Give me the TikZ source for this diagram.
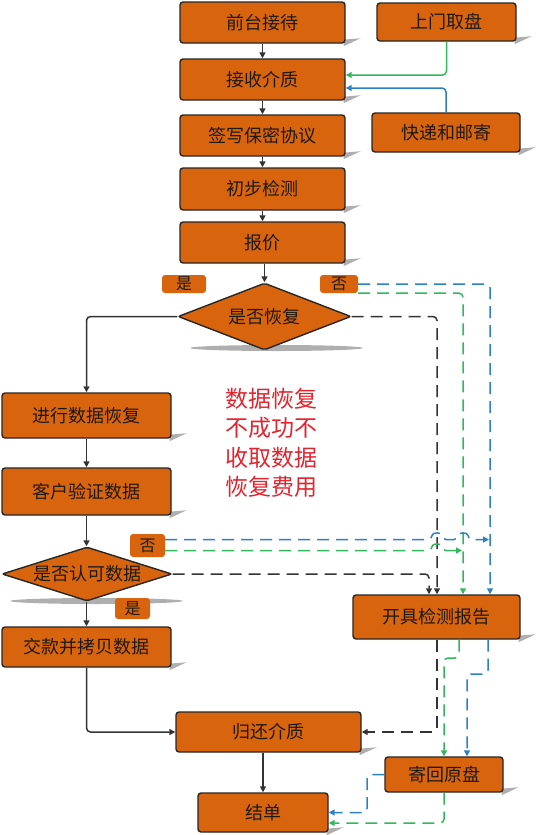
\documentclass[tikz,border=0pt]{standalone}
\usepackage{fontspec}
\newfontfamily\cjk{Noto Sans CJK SC}
\usetikzlibrary{shapes.geometric,arrows.meta,calc,backgrounds}
\definecolor{orng}{RGB}{216,101,14}
\definecolor{txt}{RGB}{30,25,20}
\definecolor{bl}{RGB}{44,128,196}
\definecolor{gr}{RGB}{48,184,90}
\definecolor{redc}{RGB}{226,36,46}
\definecolor{shad}{RGB}{175,175,175}
\begin{document}
\begin{tikzpicture}[x=1pt,y=-1pt,
  box/.style={draw=black!85,line width=1.4pt,fill=orng,rounded corners=3pt,text=txt,
    font=\cjk\fontsize{18}{20}\selectfont,inner sep=0pt},
  dia/.style={diamond,draw=black!85,line width=1.4pt,fill=orng,rounded corners=2pt,inner sep=0pt},
  diatext/.style={text=txt,font=\cjk\fontsize{18}{20}\selectfont,inner sep=0pt},
  lab/.style={fill=orng,rounded corners=3pt,text=txt,font=\cjk\fontsize{16}{18}\selectfont,inner sep=0pt},
  arr/.style={draw=black!80,line width=1.5pt,rounded corners=4pt,-{Triangle[length=6pt,width=6pt]}},
  dk/.style={arr,dash pattern=on 12pt off 7pt},
  dg/.style={arr,draw=gr,dash pattern=on 12pt off 7pt},
  db/.style={arr,draw=bl,dash pattern=on 12pt off 7pt},
  sg/.style={arr,draw=gr},
  sb/.style={arr,draw=bl}]
\useasboundingbox (0,0) rectangle (536,835);

% nodes
\node[box,minimum width=165pt,minimum height=41pt] (n1) at (262.5,22.5) {前台接待};
\node[box,minimum width=139pt,minimum height=38pt] (up) at (446.5,22) {上门取盘};
\node[box,minimum width=165pt,minimum height=41pt] (n2) at (262.5,79.5) {接收介质};
\node[box,minimum width=148pt,minimum height=39pt] (exp) at (446,132.5) {快递和邮寄};
\node[box,minimum width=165pt,minimum height=41pt] (n3) at (262.5,135.5) {签写保密协议};
\node[box,minimum width=165pt,minimum height=42pt] (n4) at (262.5,189) {初步检测};
\node[box,minimum width=165pt,minimum height=41pt] (n5) at (262.5,242.5) {报价};
\node[dia,minimum width=173pt,minimum height=67pt] (d1) at (264.5,316.5) {};
\node[diatext] (d1t) at (d1.center) {是否恢复};
\node[lab,minimum width=44pt,minimum height=18pt] (yes1) at (184,284) {是};
\node[lab,minimum width=38pt,minimum height=18pt] (no1) at (339,284) {否};
\node[box,minimum width=169pt,minimum height=45pt] (r1) at (86.5,415.5) {进行数据恢复};
\node[box,minimum width=169pt,minimum height=47pt] (r2) at (86.5,491.5) {客户验证数据};
\node[dia,minimum width=170pt,minimum height=54pt] (d2) at (87,574) {};
\node[diatext] (d2t) at (d2.center) {是否认可数据};
\node[lab,minimum width=35pt,minimum height=23pt] (no2) at (147.5,545.5) {否};
\node[lab,minimum width=35pt,minimum height=21pt] (yes2) at (132.5,608.5) {是};
\node[box,minimum width=169pt,minimum height=40pt] (pay) at (86.5,647) {交款并拷贝数据};
\node[box,minimum width=167pt,minimum height=44pt] (rep) at (436.5,617) {开具检测报告};
\node[box,minimum width=185pt,minimum height=40pt] (ret) at (268.5,732) {归还介质};
\node[box,minimum width=118pt,minimum height=35pt] (send) at (444,774.5) {寄回原盘};
\node[box,minimum width=130pt,minimum height=39pt] (fin) at (263,812.5) {结单};
\node[font=\cjk\fontsize{23}{29.5}\selectfont,text=redc,align=center,inner sep=0pt] (note) at (271.5,443) {数据恢复\\不成功不\\收取数据\\恢复费用};

% shadows
\begin{scope}[on background layer]
\foreach \n in {n1,up,n2,exp,n3,n4,n5,r1,r2,pay,rep,ret,send,fin}
  \fill[shad] ($(\n.south east)+(-2,-4)$) -- ($(\n.south east)+(15,-5.5)$) -- ($(\n.south east)+(-2,2.5)$) -- cycle;
\fill[shad] (276.5,348) ellipse [x radius=86.5, y radius=3];
\fill[shad] (96.5,601) ellipse [x radius=86.5, y radius=3];
\end{scope}

% helper coordinates
\coordinate (xk) at (437,0);
\coordinate (xk2) at (429,0);
\coordinate (xg) at (463,0);
\coordinate (xb) at (490,0);
\coordinate (xg2) at (459,0);
\coordinate (xb2) at (488,0);
\coordinate (xb3) at (467,0);
\coordinate (bj) at (489,539.5);
\coordinate (gj) at (462,550.5);

% main chain
\draw[arr] (n1) -- (n2);
\draw[arr] (n2) -- (n3);
\draw[arr] (n3) -- (n4);
\draw[arr] (n4) -- (n5);
\draw[arr] (n5.south -| d1.north) -- (d1.north);
\draw[arr] (d1.west) -| (r1.north);
\draw[arr] (r1) -- (r2);
\draw[arr] (r2.south) -- (r2.south |- d2.north);
\draw[arr] (d2.south -| pay.north) -- (pay.north);
\draw[arr] (pay.south) |- (ret.west);
\draw[arr] (ret.south -| fin.north) -- (fin.north);

% top side inputs
\draw[sg] (up.south) |- ($(n2.east)+(0,-4.5)$);
\draw[sb] (exp.north) |- ($(n2.east)+(0,8.5)$);

% "no" branches
\draw[dk] (d1.east) -| (rep.north -| xk);
\draw[db] (no1.east) -| (rep.north -| xb);
\draw[dg] (no1.south east) -| (rep.north -| xg);
\draw[dk] (d2.east) -| (rep.north -| xk2);
\draw[db] ($(no2.east)+(0,-6)$) -- (432,539.5) .. controls (432,532) and (442,532) .. (442,539.5)
  -- (458,539.5) .. controls (458,532) and (468,532) .. (468,539.5) -- (bj);
\draw[dg] ($(no2.east)+(0,5)$) -- (432,550.5) .. controls (432,543) and (442,543) .. (442,550.5) -- (gj);

% report outputs
\draw[dk] (rep.south -| xk) |- (ret.east);
\draw[dg] (rep.south -| xg2) -- (459,658) -- (444,658) -- (send.north);
\draw[db] (rep.south -| xb2) -- (488,674) -- (467,674) -- (send.north -| xb3);
\draw[db] (send.west) -- (367,774.5) |- (fin.east);
\draw[dg] (send.south) |- ($(fin.east)+(0,10.5)$);
\end{tikzpicture}
\end{document}
